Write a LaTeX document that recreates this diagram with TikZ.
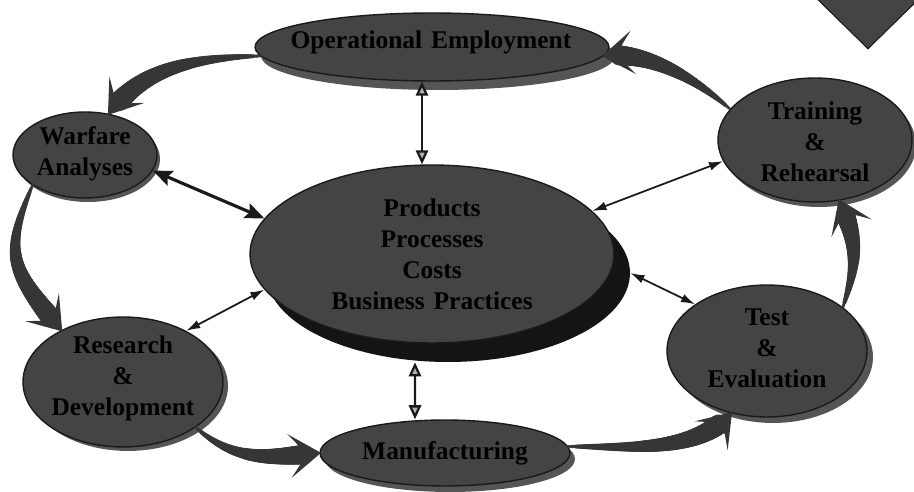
\documentclass[tikz,border=0pt]{standalone}
\usepackage{fontspec}
\setmainfont{Liberation Serif}
\usetikzlibrary{shapes.geometric,arrows.meta,decorations.markings}
\definecolor{ellfill}{RGB}{68,68,68}
\definecolor{swc}{RGB}{54,54,54}
\definecolor{shadc}{RGB}{85,85,85}
\definecolor{edgec}{RGB}{26,26,26}
\begin{document}
\begin{tikzpicture}[x=0.02cm,y=-0.02cm,
  ell/.style={ellipse, fill=ellfill, draw=edgec, line width=0.8pt, inner sep=0pt},
  shad/.style={ellipse, fill=shadc, inner sep=0pt},
  lbl/.style={inner sep=0pt, align=center, font=\bfseries\fontsize{14.5}{17.6}\selectfont},
  swoosh/.style={draw=none, decoration={markings,
     mark=between positions 0 and -9pt step 0.8pt with {%
        \pgfmathsetmacro\swr{0.9+5.4*(\pgfkeysvalueof{/pgf/decoration/mark info/distance from start})/(\pgfdecoratedpathlength)}%
        \fill[swc] (0,0) circle (\swr pt);},
     mark=at position 1 with {\fill[swc] (1pt,0) -- (-17pt,12.5pt) -- (-11pt,5pt) -- (-11pt,-5pt) -- (-17pt,-12.5pt) -- cycle;}},
     postaction={decorate}},
  thk/.style={draw=edgec, line width=1.8pt, {Stealth[length=11pt,width=9pt,inset=2pt]}-{Stealth[length=11pt,width=9pt,inset=2pt]}},
  thn/.style={draw=edgec, line width=1pt, {Latex[length=8pt,width=5pt]}-{Latex[length=8pt,width=5pt]}},
  vrt/.style={draw=edgec, line width=1.3pt, {Triangle[length=8pt,width=7pt,fill=gray!60]}-{Triangle[length=8pt,width=7pt,fill=gray!60]}}
]
\useasboundingbox (0,0) rectangle (914,492);
\clip (0,0) rectangle (914,492);

% corner diamond
\node[diamond, fill=ellfill, draw=edgec, line width=0.6pt, minimum width=2cm, minimum height=1.96cm, inner sep=0pt] (dia) at (868,0) {};

% shadows
\node[shad, fill=black!92, minimum width=7.28cm, minimum height=3.56cm] (prodsh) at (448,273) {};
\node[shad, minimum width=7.08cm, minimum height=1.36cm] (opsh) at (438,56) {};
\node[shad, minimum width=5cm, minimum height=1.32cm] (mfgsh) at (450,459) {};
\node[shad, minimum width=4cm, minimum height=2.6cm] (rndsh) at (128,386) {};
\node[shad, minimum width=4cm, minimum height=2.64cm] (tstsh) at (773,357) {};
\node[shad, minimum width=3.88cm, minimum height=2.48cm] (trnsh) at (819,145) {};
\node[shad, minimum width=2.88cm, minimum height=1.72cm] (warsh) at (88,159) {};

% ellipses
\node[ell, minimum width=7.28cm, minimum height=3.56cm] (prod) at (432,254) {};
\node[ell, minimum width=7.08cm, minimum height=1.36cm] (op) at (432,47) {};
\node[ell, minimum width=2.88cm, minimum height=1.72cm] (war) at (85,155) {};
\node[ell, minimum width=3.88cm, minimum height=2.48cm] (trn) at (815,140) {};
\node[ell, minimum width=4cm, minimum height=2.6cm] (rnd) at (123,382) {};
\node[ell, minimum width=5cm, minimum height=1.32cm] (mfg) at (445,453) {};
\node[ell, minimum width=4cm, minimum height=2.64cm] (tst) at (767,351) {};

% texts
\node[lbl] (prodtxt) at (432,254) {\color{black}Products\\\color{black}Processes\\\color{black}Costs\\\color{black}Business\hspace{0.35em}Practices};
\node[lbl] (optxt) at (431,42) {\color{black}Operational\hspace{0.35em}Employment};
\node[lbl] (wartxt) at (85,154) {\color{black}Warfare\\\color{black}Analyses};
\node[lbl] (trntxt) at (815,142) {\color{black}Training\\\color{black}\&\\\color{black}Rehearsal};
\node[lbl] (rndtxt) at (123,378) {\color{black}Research\\\color{black}\&\\\color{black}Development};
\node[lbl] (mfgtxt) at (445,453) {\color{black}Manufacturing};
\node[lbl] (tsttxt) at (767,348) {\color{black}Test\\\color{black}\&\\\color{black}Evaluation};

% cycle swooshes
\path[swoosh] (op.183) .. controls +(-80,2) and +(30,-40) .. (war.60);
\path[swoosh] (war.210) .. controls +(-30,70) and +(-50,-60) .. (rnd.140);
\path[swoosh] (rnd.-32) .. controls +(40,35) and +(-50,5) .. (mfg.west);
\path[swoosh] (mfg.3) .. controls +(60,0) and +(-35,40) .. (tst.240);
\path[swoosh] (tst.30) .. controls +(15,-45) and +(18,41) .. (trn.-68);
\path[swoosh] (trn.160) .. controls +(-40,-35) and +(40,-5) .. (op.-3);

% straight double arrows
\draw[thk] (war.-13) -- (prod.168);
\draw[thn] (trn.193) -- (prod.15);
\draw[thn] (prod.192) -- (rnd.39);
\draw[thn] (prodsh.0) -- (tst.147);
\draw[vrt] ([xshift=-0.2cm]op.south) -- ([xshift=-0.2cm]prod.north);
\draw[vrt] ([xshift=-0.66cm]prodsh.south) -- ([xshift=-0.6cm]mfg.north);
\end{tikzpicture}
\end{document}
